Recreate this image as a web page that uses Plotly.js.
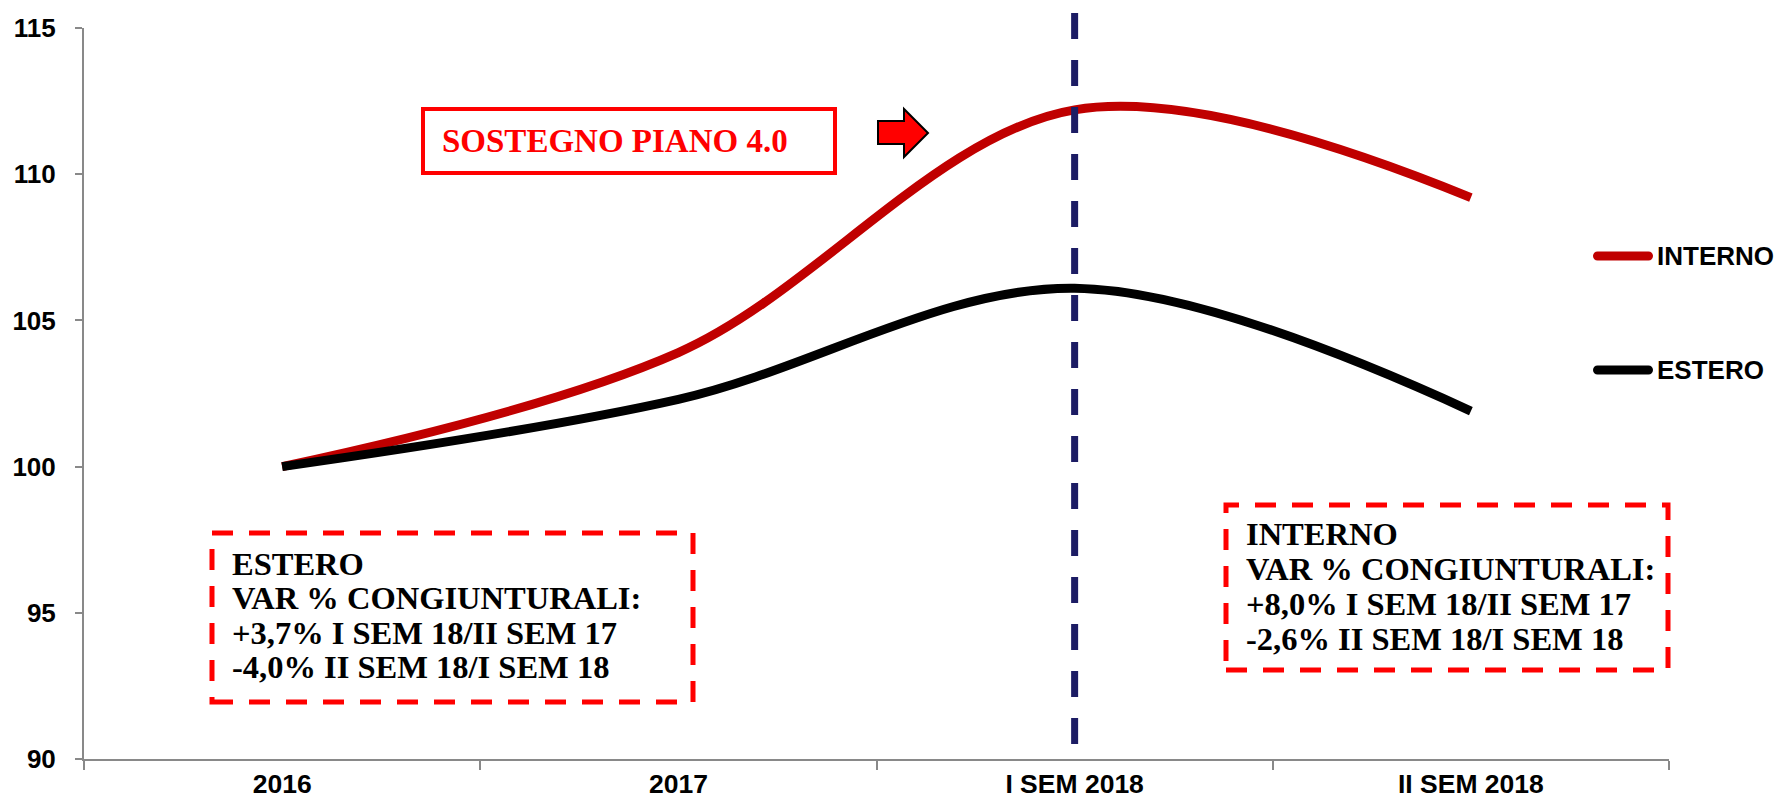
<!DOCTYPE html>
<html>
<head>
<meta charset="utf-8">
<script src="https://cdn.plot.ly/plotly-3.0.1.min.js"></script>
<style>
  html, body { margin: 0; padding: 0; background: #ffffff; }
  #chart { width: 1777px; height: 801px; }
</style>
</head>
<body>
<div id="chart"></div>
<script>
// ---- data ----
var categories = ['2016', '2017', 'I SEM 2018', 'II SEM 2018'];
var interno = [100, 103.9, 112.2, 109.2];
var estero = [100, 102.3, 106.1, 101.9];
var yTicks = [90, 95, 100, 105, 110, 115];
var seriesNames = ['INTERNO', 'ESTERO'];
var markerCategory = 'I SEM 2018';
var pianoText = 'SOSTEGNO PIANO 4.0';
var esteroNote = ['ESTERO', 'VAR % CONGIUNTURALI:', '+3,7% I SEM 18/II SEM 17', '-4,0% II SEM 18/I SEM 18'];
var internoNote = ['INTERNO', 'VAR % CONGIUNTURALI:', '+8,0% I SEM 18/II SEM 17', '-2,6% II SEM 18/I SEM 18'];

// ---- layout helpers (pixel -> paper) ----
var W = 1777, H = 801;
var M = {l: 84, r: 108, t: 28, b: 42, autoexpand: false};
var PW = W - M.l - M.r, PH = H - M.t - M.b;
function px(x) { return (x - M.l) / PW; }
function py(y) { return (H - M.b - y) / PH; }

var sans = 'Liberation Sans, Arial, sans-serif';
var serif = 'Liberation Serif, Georgia, serif';
var colors = ['#C00000', '#000000'];

var traces = [
  {
    x: categories, y: interno, name: seriesNames[0], type: 'scatter', mode: 'lines',
    line: {color: colors[0], width: 9, shape: 'spline', smoothing: 1},
    hoverinfo: 'x+y'
  },
  {
    x: categories, y: estero, name: seriesNames[1], type: 'scatter', mode: 'lines',
    line: {color: colors[1], width: 9, shape: 'spline', smoothing: 1},
    hoverinfo: 'x+y'
  }
];

var shapes = [];
var annotations = [];

// vertical dashed marker line
shapes.push({
  type: 'line', xref: 'x', yref: 'paper',
  x0: categories.indexOf(markerCategory), x1: categories.indexOf(markerCategory),
  y0: py(744), y1: py(8),
  line: {color: '#1C1C64', width: 7, dash: '26px,21px'}
});

// SOSTEGNO box
shapes.push({
  type: 'rect', xref: 'paper', yref: 'paper',
  x0: px(423), x1: px(835), y0: py(173), y1: py(109),
  line: {color: '#FF0000', width: 4}, fillcolor: 'rgba(0,0,0,0)'
});
annotations.push({
  xref: 'paper', yref: 'paper', x: px(615), y: py(141), xanchor: 'center', yanchor: 'middle',
  text: '<b>' + pianoText + '</b>', showarrow: false,
  font: {family: serif, size: 33, color: '#FF0000'}
});

// block arrow
var ap = [[878,121],[904,121],[904,109],[928,133],[904,157],[904,144],[878,144]];
var apath = ap.map(function (p, i) { return (i ? 'L' : 'M') + px(p[0]) + ',' + py(p[1]); }).join(' ') + ' Z';
shapes.push({
  type: 'path', xref: 'paper', yref: 'paper', path: apath,
  fillcolor: '#FF0000', line: {color: '#000000', width: 2}
});

// manual legend (long rounded keys like the reference)
function capsule(x0, x1, y, r, color) {
  var k = 0.5523 * r;
  function P(x, yy) { return px(x) + ',' + py(yy); }
  var d = 'M' + P(x0 + r, y - r) + ' L' + P(x1 - r, y - r) +
    ' C' + P(x1 - r + k, y - r) + ' ' + P(x1, y - k) + ' ' + P(x1, y) +
    ' C' + P(x1, y + k) + ' ' + P(x1 - r + k, y + r) + ' ' + P(x1 - r, y + r) +
    ' L' + P(x0 + r, y + r) +
    ' C' + P(x0 + r - k, y + r) + ' ' + P(x0, y + k) + ' ' + P(x0, y) +
    ' C' + P(x0, y - k) + ' ' + P(x0 + r - k, y - r) + ' ' + P(x0 + r, y - r) + ' Z';
  shapes.push({type: 'path', xref: 'paper', yref: 'paper', path: d,
    fillcolor: color, line: {width: 0}});
}
var legendY = [256, 370];
seriesNames.forEach(function (n, i) {
  capsule(1593, 1653, legendY[i], 4.5, colors[i]);
  annotations.push({
    xref: 'paper', yref: 'paper', x: px(1655), y: py(legendY[i]),
    xanchor: 'left', yanchor: 'middle', showarrow: false,
    text: '<b>' + n + '</b>',
    font: {family: sans, size: 26, color: '#000000'}
  });
});

// dashed note boxes
function noteBox(x0, x1, y0, y1, lines, tx, ty0, dy) {
  shapes.push({
    type: 'rect', xref: 'paper', yref: 'paper',
    x0: px(x0), x1: px(x1), y0: py(y1), y1: py(y0),
    line: {color: '#FF0000', width: 5, dash: '21px,16px'}, fillcolor: 'rgba(0,0,0,0)'
  });
  lines.forEach(function (t, i) {
    annotations.push({
      xref: 'paper', yref: 'paper', x: px(tx), y: py(ty0 + i * dy),
      xanchor: 'left', yanchor: 'middle', showarrow: false,
      text: '<b>' + t + '</b>',
      font: {family: serif, size: 32.5, color: '#000000'}
    });
  });
}
noteBox(212, 693, 533, 702, esteroNote, 230, 564, 34.4);
noteBox(1226, 1668, 505, 670, internoNote, 1244, 534, 35);

var layout = {
  width: W, height: H,
  margin: M,
  paper_bgcolor: '#ffffff', plot_bgcolor: '#ffffff',
  showlegend: false,
  xaxis: {
    type: 'category', range: [-0.5, 3.5],
    showline: true, linecolor: '#898989', linewidth: 2,
    ticks: 'outside', tickson: 'boundaries', ticklen: 9, tickcolor: '#898989', tickwidth: 2,
    showgrid: false, zeroline: false,
    tickfont: {family: sans, size: 26.5, color: '#000000', weight: 'bold'}
  },
  yaxis: {
    range: [90, 115], tickvals: yTicks,
    showline: true, linecolor: '#898989', linewidth: 2,
    ticks: 'outside', ticklen: 7, tickcolor: '#898989', tickwidth: 2,
    showgrid: false, zeroline: false, ticklabelstandoff: 14,
    tickfont: {family: sans, size: 26, color: '#000000', weight: 'bold'}
  },
  shapes: shapes,
  annotations: annotations
};

Plotly.newPlot('chart', traces, layout, {displayModeBar: false, staticPlot: true});
</script>
</body>
</html>
